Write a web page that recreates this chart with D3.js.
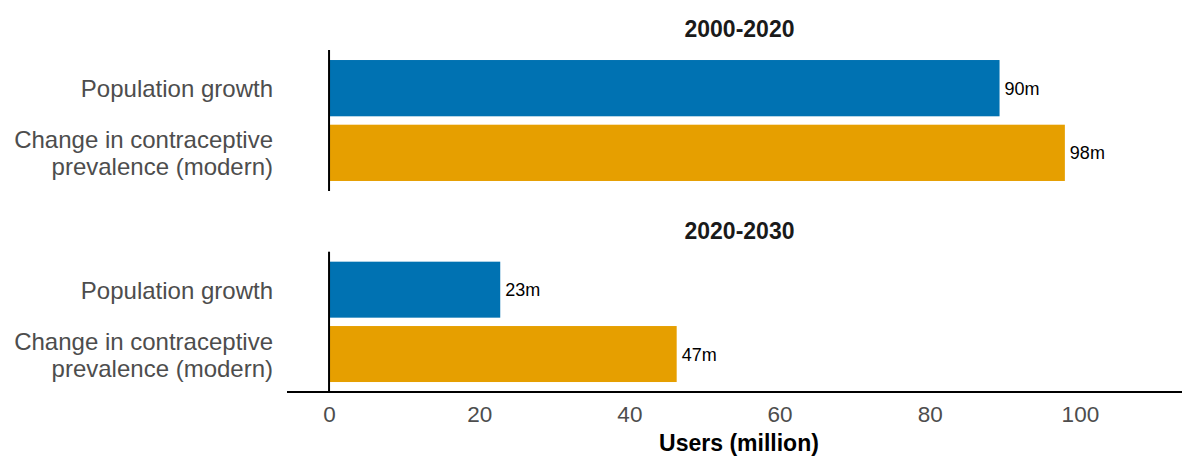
<!DOCTYPE html>
<html>
<head>
<meta charset="utf-8">
<script src="https://cdn.jsdelivr.net/npm/d3@7"></script>
<style>
  html, body { margin: 0; padding: 0; background: #fff; }
  svg { display: block; font-family: "Liberation Sans", Arial, sans-serif; }
</style>
</head>
<body>
<svg id="chart" width="1182" height="458"></svg>
<script>
// ---- data ----
const panels = ["2000-2020", "2020-2030"];
const categories = ["Population growth", "Change in contraceptive prevalence (modern)"];
const categoryLines = [["Population growth"], ["Change in contraceptive", "prevalence (modern)"]];
const values2000_2020 = [89.3, 98.0];
const values2020_2030 = [22.8, 46.3];
const labels2000_2020 = ["90m", "98m"];
const labels2020_2030 = ["23m", "47m"];
const seriesColors = ["#0072B2", "#E69F00"];
const xTicks = [0, 20, 40, 60, 80, 100];
const xTitle = "Users (million)";

const panelValues = [values2000_2020, values2020_2030];
const panelLabels = [labels2000_2020, labels2020_2030];

// ---- layout ----
const plotLeft = 287, plotRight = 1182;
const panelRanges = [[50, 191], [251.7, 392]];

const svg = d3.select("#chart");

const x = d3.scaleLinear().domain([-5.6, 113.6]).range([plotLeft, plotRight]);

panels.forEach((p, pi) => {
  const [y0, y1] = panelRanges[pi];
  const y = d3.scaleBand().domain(categories).range([y0, y1])
    .paddingInner(0.13).paddingOuter(0.155);
  const g = svg.append("g");

  g.append("text")
    .attr("x", (plotLeft + plotRight) / 2 + 5)
    .attr("y", y0 - 13)
    .attr("text-anchor", "middle")
    .attr("font-size", 23)
    .attr("font-weight", "bold")
    .attr("fill", "#1a1a1a")
    .text(p);

  const data = categories.map((c, i) => ({ c, v: panelValues[pi][i], lab: panelLabels[pi][i], col: seriesColors[i], lines: categoryLines[i] }));

  g.selectAll("rect.bar").data(data).enter().append("rect")
    .attr("class", "bar")
    .attr("x", x(0))
    .attr("y", d => y(d.c))
    .attr("width", d => x(d.v) - x(0))
    .attr("height", y.bandwidth())
    .attr("fill", d => d.col);

  g.selectAll("text.val").data(data).enter().append("text")
    .attr("class", "val")
    .attr("x", d => x(d.v) + 5)
    .attr("y", d => y(d.c) + y.bandwidth() / 2 + 6.5)
    .attr("font-size", 18)
    .attr("fill", "#000")
    .text(d => d.lab);

  data.forEach(d => {
    const cy = y(d.c) + y.bandwidth() / 2;
    const n = d.lines.length;
    const lh = 27;
    const t = g.append("text")
      .attr("text-anchor", "end")
      .attr("font-size", 24)
      .attr("fill", "#4d4d4d");
    d.lines.forEach((ln, li) => {
      t.append("tspan")
        .attr("x", 273)
        .attr("y", cy + 9 + (li - (n - 1) / 2) * lh)
        .text(ln);
    });
  });

  g.append("line")
    .attr("x1", x(0)).attr("x2", x(0))
    .attr("y1", y0).attr("y2", y1)
    .attr("stroke", "#000").attr("stroke-width", 2);
});

// x axis
const axisY = 392;
const xAxis = d3.axisBottom(x).tickValues(xTicks).tickSize(0).tickPadding(14);
const ax = svg.append("g").attr("transform", `translate(0,${axisY})`).call(xAxis);
ax.select(".domain").remove();
ax.selectAll("text").attr("font-size", 22.5).attr("fill", "#4d4d4d")
  .attr("font-family", "'Liberation Sans', Arial, sans-serif");
svg.append("line")
  .attr("x1", plotLeft).attr("x2", plotRight)
  .attr("y1", axisY).attr("y2", axisY)
  .attr("stroke", "#000").attr("stroke-width", 2);

svg.append("text")
  .attr("x", 739)
  .attr("y", 451)
  .attr("text-anchor", "middle")
  .attr("font-size", 23)
  .attr("font-weight", "bold")
  .attr("fill", "#000")
  .text(xTitle);
</script>
</body>
</html>
